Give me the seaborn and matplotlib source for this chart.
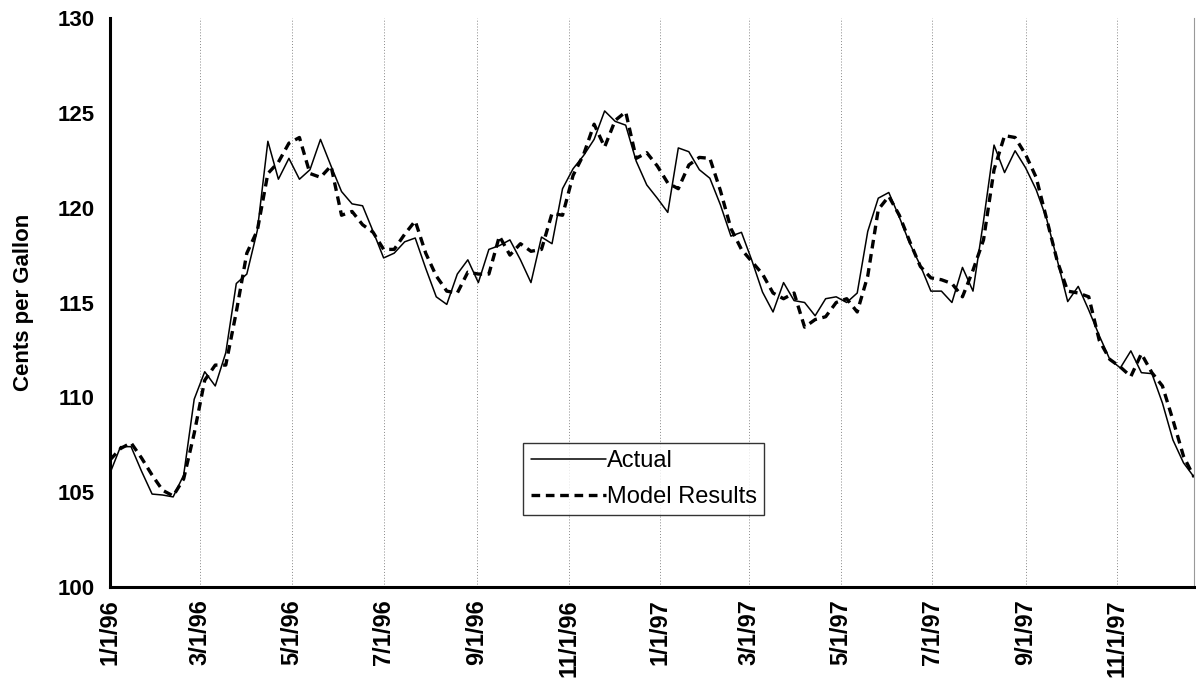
import numpy as np
import pandas as pd
import matplotlib
matplotlib.use("Agg")
import matplotlib.pyplot as plt
from matplotlib.lines import Line2D
import seaborn as sns

# Weekly retail gasoline price, cents per gallon (weeks starting 1/1/96)
actual = [
    106.0, 107.4, 107.4, 106.1, 104.9, 104.85, 104.75, 105.9, 109.9, 111.35,
    110.6, 112.35, 116.0, 116.5, 118.8, 123.5, 121.5, 122.6, 121.5, 122.0,
    123.6, 122.2, 120.85, 120.2, 120.1, 118.75, 117.35, 117.6, 118.2, 118.4,
    116.8, 115.3, 114.9, 116.5, 117.25, 116.05, 117.8, 118.0, 118.3, 117.25,
    116.05, 118.45, 118.1, 121.0, 122.05, 122.75, 123.6, 125.1, 124.55, 124.35,
    122.45, 121.2, 120.5, 119.75, 123.15, 122.95, 122.0, 121.55, 120.15, 118.5,
    118.7, 117.2, 115.55, 114.5, 116.05, 115.1, 115.0, 114.3, 115.2, 115.3,
    115.0, 115.5, 118.75, 120.5, 120.8, 119.5, 118.1, 116.95, 115.6, 115.6,
    115.0, 116.85, 115.6, 119.3, 123.3, 121.85, 123.0, 122.1, 120.95, 119.4,
    117.25, 115.05, 115.85, 114.6, 113.25, 112.0, 111.55, 112.45, 111.3, 111.25,
    109.7, 107.75, 106.55, 105.8,
]
model = [
    106.7, 107.3, 107.6, 106.8, 105.9, 105.1, 104.8, 105.7, 108.1, 110.9,
    111.7, 111.7, 114.5, 117.6, 118.8, 121.8, 122.4, 123.4, 123.7, 121.8,
    121.6, 122.2, 119.6, 119.8, 119.1, 118.7, 117.8, 117.8, 118.6, 119.3,
    117.6, 116.4, 115.6, 115.5, 116.6, 116.5, 116.5, 118.5, 117.5, 118.1,
    117.7, 117.8, 119.7, 119.6, 121.7, 122.8, 124.4, 123.2, 124.6, 125.05,
    122.6, 122.9, 122.2, 121.3, 121.0, 122.25, 122.65, 122.6, 120.9, 118.9,
    117.8, 117.15, 116.5, 115.5, 115.2, 115.5, 113.7, 114.1, 114.25, 115.0,
    115.2, 114.5, 116.4, 119.9, 120.6, 119.6, 118.2, 116.9, 116.3, 116.2,
    116.0, 115.3, 116.7, 118.3, 122.0, 123.8, 123.7, 122.8, 121.6, 119.4,
    117.2, 115.6, 115.5, 115.3, 113.0, 112.0, 111.6, 111.1, 112.3, 111.3,
    110.6, 108.8, 106.9, 105.8,
]
series_names = ["Actual", "Model Results"]
tick_dates = ["1996-01-01", "1996-03-01", "1996-05-01", "1996-07-01", "1996-09-01",
              "1996-11-01", "1997-01-01", "1997-03-01", "1997-05-01", "1997-07-01",
              "1997-09-01", "1997-11-01"]
tick_labels = ["1/1/96", "3/1/96", "5/1/96", "7/1/96", "9/1/96", "11/1/96",
               "1/1/97", "3/1/97", "5/1/97", "7/1/97", "9/1/97", "11/1/97"]
y_ticks = [100, 105, 110, 115, 120, 125, 130]

weeks = pd.date_range("1996-01-01", periods=len(actual), freq="7D")
df = pd.DataFrame({
    "week": np.concatenate([weeks, weeks]),
    "price": actual + model,
    "series": [series_names[0]] * len(actual) + [series_names[1]] * len(model),
})

sns.set_style("white")
plt.rcParams["font.family"] = ["Liberation Sans", "DejaVu Sans"]
plt.rcParams["text.color"] = "black"
plt.rcParams["axes.labelcolor"] = "black"
plt.rcParams["xtick.color"] = "black"
plt.rcParams["ytick.color"] = "black"

fig = plt.figure(figsize=(11.96, 6.98), dpi=100)
ax = fig.add_axes([110 / 1196, 1 - 587 / 698, 1084 / 1196, 569 / 698])

dash = (2.6, 1.7)
sns.lineplot(data=df, x="week", y="price", hue="series", style="series",
             palette={series_names[0]: "black", series_names[1]: "black"},
             dashes={series_names[0]: "", series_names[1]: dash},
             size="series",
             sizes={series_names[0]: 1.1, series_names[1]: 2.4},
             ax=ax, legend=False)

ax.set_xlim(weeks[0], weeks[-1])
ax.set_ylim(100, 130)
ax.set_yticks(y_ticks)
ax.set_yticklabels([str(v) for v in y_ticks], fontsize=16, fontweight="bold")
ax.set_xticks(pd.to_datetime(tick_dates))
ax.set_xticklabels(tick_labels, rotation=90, fontsize=17, fontweight="bold")
ax.xaxis.grid(True, color="#888888", linestyle=(0, (1, 2)), linewidth=0.7)
ax.yaxis.grid(False)
ax.set_xlabel("")
ax.set_ylabel("Cents per Gallon", fontsize=16, fontweight="bold", labelpad=17)

for side in ["left", "bottom"]:
    ax.spines[side].set_color("black")
    ax.spines[side].set_linewidth(2.2)
ax.spines["top"].set_visible(False)
ax.spines["right"].set_color("#999999")
ax.spines["right"].set_linewidth(0.8)
ax.tick_params(axis="y", which="major", direction="out", length=7, width=2.2,
               colors="black", pad=4)
ax.tick_params(axis="x", which="major", direction="out", length=7, width=2.2,
               colors="black", pad=2)

handles = [Line2D([], [], color="black", linewidth=1.1),
           Line2D([], [], color="black", linewidth=2.4, linestyle=(0, dash))]
leg = ax.legend(handles, series_names, loc="center", bbox_to_anchor=(0.4925, 0.19),
                frameon=True, fancybox=False, edgecolor="black", fontsize=17,
                handlelength=3.2, handletextpad=0.05, borderpad=0.3,
                labelspacing=0.6, borderaxespad=0)
leg.get_frame().set_linewidth(1.0)

fig.savefig("out.png", dpi=100)
